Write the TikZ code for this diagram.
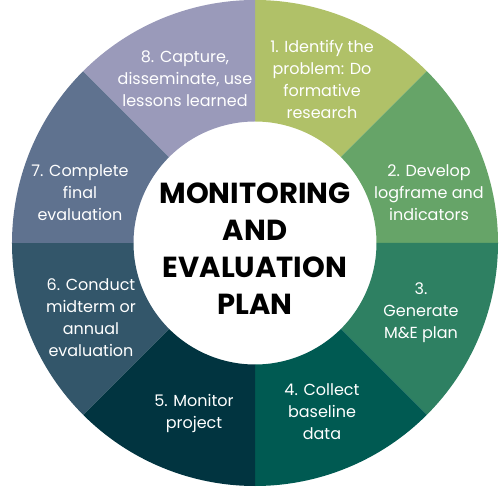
\documentclass[tikz,border=0pt]{standalone}
\usepackage{fontspec}
\setmainfont{Poppins}
\usepackage{tikz}
\usetikzlibrary{positioning}
\definecolor{stepA}{HTML}{B0C168}
\definecolor{stepB}{HTML}{66A468}
\definecolor{stepC}{HTML}{2E8062}
\definecolor{stepD}{HTML}{005A52}
\definecolor{stepE}{HTML}{013440}
\definecolor{stepF}{HTML}{33566A}
\definecolor{stepG}{HTML}{5F728F}
\definecolor{stepH}{HTML}{9A9ABA}
\tikzset{
  seglabel/.style = {text=white, align=center, inner sep=0pt,
                     font=\fontsize{16}{22}\selectfont},
  title/.style    = {text=black, align=center, inner sep=0pt,
                     font=\fontsize{29}{37}\selectfont\bfseries},
}
\begin{document}
\begin{tikzpicture}[x=1pt,y=1pt]
  \useasboundingbox (-255,243) rectangle (248,-246);
  % ring of eight steps
  \foreach \i/\col in {1/stepA,2/stepB,3/stepC,4/stepD,5/stepE,6/stepF,7/stepG,8/stepH}{
    \pgfmathsetmacro\aone{90-45*(\i-1)}
    \pgfmathsetmacro\atwo{90-45*\i}
    \fill[\col] (\aone:243) arc[start angle=\aone,end angle=\atwo,radius=243]
      -- (\atwo:121.5) arc[start angle=\atwo,end angle=\aone,radius=121.5] -- cycle;
  }
  \node[title] (plan) at (0,-6) {MONITORING\\AND\\EVALUATION\\PLAN};
  \node[seglabel] (s1) at (67,163.5)  {1. Identify the\\problem: Do\\formative\\research};
  \node[seglabel] (s2) at (174,50)    {2. Develop\\logframe and\\indicators};
  \node[seglabel] (s3) at (166,-69.5) {3.\\Generate\\M\&E plan};
  \node[seglabel] (s4) at (67,-169)   {4. Collect\\baseline\\data};
  \node[seglabel] (s5) at (-61,-170)  {5. Monitor\\project};
  \node[seglabel] (s6) at (-164,-74.5){6. Conduct\\midterm or\\annual\\evaluation};
  \node[seglabel] (s7) at (-175,50)   {7. Complete\\final\\evaluation};
  \node[seglabel] (s8) at (-70,164)   {8. Capture,\\disseminate, use\\lessons learned};
\end{tikzpicture}
\end{document}
